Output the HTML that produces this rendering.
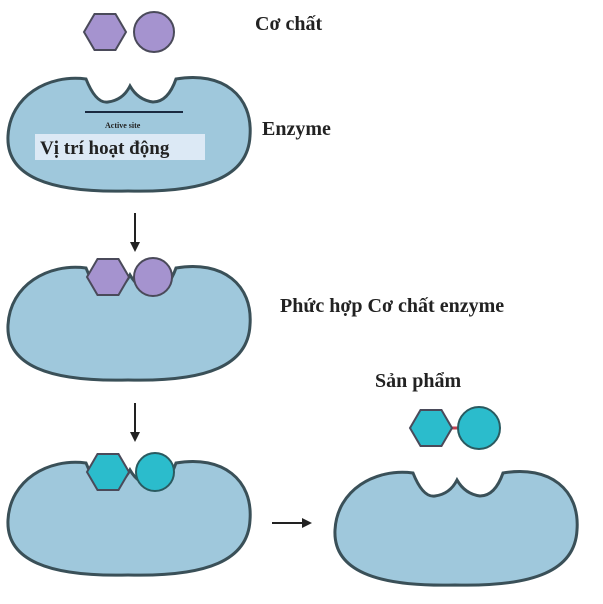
<!DOCTYPE html>
<html><head><meta charset="utf-8"><style>
body{margin:0;background:#fff;width:603px;height:599px;overflow:hidden}
svg text{font-family:"Liberation Serif",serif;font-weight:bold;fill:#222}
</style></head><body>
<svg width="603" height="599" viewBox="0 0 603 599" xmlns="http://www.w3.org/2000/svg">
<defs>
<path id="enz" d="M78,3 Q88,28 100,26 Q115,24 122,10 Q130,24 145,26 Q160,26 168,3 C215,-5 245,20 242,60 C240,100 200,117 120,115 C40,117 -2,100 0,60 C2,20 40,-2 78,3 Z" fill="#9fc8dc" stroke="#3a5058" stroke-width="3"/>
<polygon id="hex" points="-21,0 -10.5,-18 10.5,-18 21,0 10.5,18 -10.5,18" stroke="#4a4a5a" stroke-width="2"/>
</defs>
<!-- substrate -->
<use href="#hex" x="105" y="32" fill="#a593cf"/>
<circle cx="154" cy="32" r="20" fill="#a593cf" stroke="#4a4a5a" stroke-width="2"/>
<text x="255" y="30" font-size="20">Cơ chất</text>
<!-- enzyme 1 -->
<use href="#enz" x="8" y="76"/>
<line x1="85" y1="112" x2="183" y2="112" stroke="#1a2a40" stroke-width="2"/>
<text x="105" y="128" font-size="8" fill="#345">Active site</text>
<rect x="35" y="134" width="170" height="26" fill="#dce9f5"/>
<text x="40" y="154" font-size="19" fill="#111">Vị trí hoạt động</text>
<text x="262" y="135" font-size="20">Enzyme</text>
<!-- arrow 1 -->
<line x1="135" y1="213" x2="135" y2="246" stroke="#222" stroke-width="2"/>
<polygon points="130,242 140,242 135,252" fill="#222"/>
<!-- enzyme 2 -->
<use href="#enz" x="8" y="265"/>
<use href="#hex" x="108" y="277" fill="#a593cf"/>
<circle cx="153" cy="277" r="19" fill="#a593cf" stroke="#4a4a5a" stroke-width="2"/>
<text x="280" y="312" font-size="20">Phức hợp Cơ chất enzyme</text>
<!-- arrow 2 -->
<line x1="135" y1="403" x2="135" y2="436" stroke="#222" stroke-width="2"/>
<polygon points="130,432 140,432 135,442" fill="#222"/>
<!-- enzyme 3 -->
<use href="#enz" x="8" y="460"/>
<use href="#hex" x="108" y="472" fill="#2bbccc"/>
<circle cx="155" cy="472" r="19" fill="#2bbccc" stroke="#2a5a60" stroke-width="2"/>
<!-- arrow 3 -->
<line x1="272" y1="523" x2="306" y2="523" stroke="#222" stroke-width="2"/>
<polygon points="302,518 302,528 312,523" fill="#222"/>
<!-- product -->
<text x="375" y="387" font-size="20">Sản phẩm</text>
<line x1="450" y1="428" x2="458" y2="428" stroke="#c04050" stroke-width="3"/>
<use href="#hex" x="431" y="428" fill="#2bbccc"/>
<circle cx="479" cy="428" r="21" fill="#2bbccc" stroke="#2a5a60" stroke-width="2"/>
<!-- enzyme 4 -->
<use href="#enz" x="335" y="470"/>
</svg>
</body></html>
